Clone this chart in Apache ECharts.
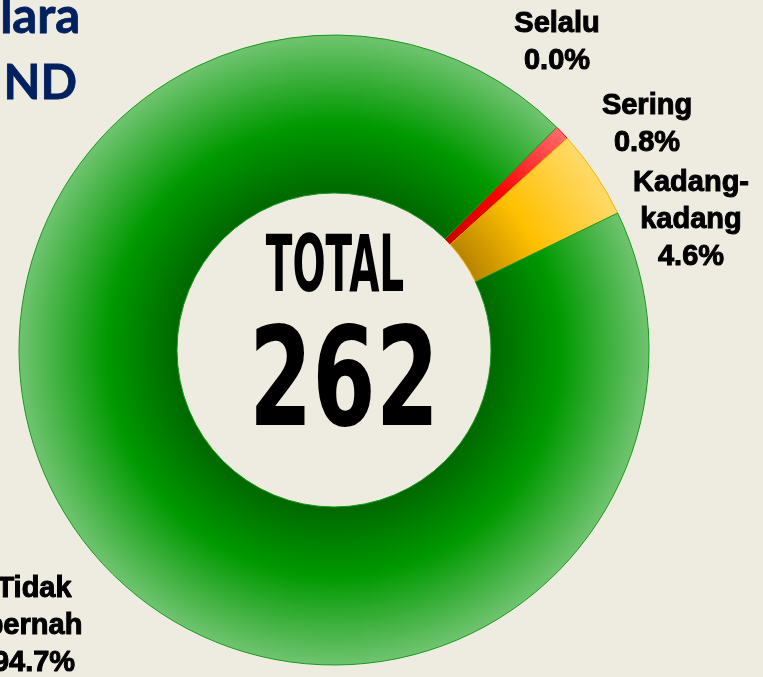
<!DOCTYPE html>
<html>
	<head>
		<meta charset="UTF-8">
		<script type="text/javascript" src="https://cdn.jsdelivr.net/npm/echarts@6/dist/echarts.min.js"></script>
		<title>Total 262</title>
		<style>
			html, body { margin: 0; padding: 0; background: #eeece1; }
			#chart { width: 763px; height: 677px; }
		</style>
	</head>
	<body>
		<div id="chart"></div>
		<script type="text/javascript">
			// data
			var categories = ['Selalu', 'Sering', 'Kadang-kadang', 'Tidak pernah'];
			var counts = [0, 2, 12, 248];
			var titleParts = ['lara', 'ND'];

			var total = counts.reduce(function (a, b) { return a + b; }, 0);

			// pie geometry
			var cx = 334, cy = 350, rIn = 157, rOut = 315;

			function ring(inner, mid, outer) {
				return {
					type: 'radial', x: cx, y: cy, r: rOut, global: true,
					colorStops: [
						{offset: 0, color: inner},
						{offset: rIn / rOut, color: inner},
						{offset: 0.72, color: mid},
						{offset: 1, color: outer}
					]
				};
			}
			var sliceStyle = [
				{color: ring('#c00000', '#ff0000', '#ff6b6b'), borderColor: 'rgba(0,0,0,0)', borderWidth: 0},
				{color: ring('#c80000', '#ff0000', '#ff6b6b'), borderColor: '#ff0000', borderWidth: 1},
				{color: ring('#b88400', '#ffc000', '#ffda6a'), borderColor: '#f5b400', borderWidth: 1},
				{color: ring('#006800', '#009900', '#70c470'), borderColor: '#1c991c', borderWidth: 1}
			];

			// label placement (manual, as in the original)
			var labelAt = [[557, 42], [647, 124], [691, 220], [34, 626]];

			var myChart = echarts.init(document.getElementById('chart'));
			var option = {
				backgroundColor: '#eeece1',
				animation: false,
				graphic: [
					{type: 'text', x: 80, y: 17, style: {text: titleParts[0], fontSize: 49, fontWeight: 'bold', fontFamily: 'Lato', fill: '#002060', stroke: '#002060', lineWidth: 0.8, align: 'right', textAlign: 'right', verticalAlign: 'middle', textVerticalAlign: 'middle'}},
					{type: 'text', x: 77, y: 84, style: {text: titleParts[1], fontSize: 48, fontWeight: 'bold', fontFamily: 'Lato', fill: '#002060', stroke: '#002060', lineWidth: 0.8, align: 'right', textAlign: 'right', verticalAlign: 'middle', textVerticalAlign: 'middle'}},
					{type: 'text', x: 335, y: 271, scaleX: 0.5, z: 100, style: {text: 'TOTAL', fontSize: 78, fontWeight: 'bold', fontFamily: 'DejaVu Sans', fill: '#000', align: 'center', textAlign: 'center', verticalAlign: 'middle', textVerticalAlign: 'middle'}},
					{type: 'text', x: 344, y: 389, scaleX: 0.66, z: 100, style: {text: String(total), fontSize: 138, fontWeight: 'bold', fontFamily: 'DejaVu Sans', fill: '#000', align: 'center', textAlign: 'center', verticalAlign: 'middle', textVerticalAlign: 'middle'}}
				],
				series: [{
					type: 'pie',
					center: [cx, cy],
					radius: [rIn, rOut],
					startAngle: 45,
					clockwise: true,
					avoidLabelOverlap: false,
					labelLine: {show: false},
					emphasis: {disabled: true},
					label: {
						show: true,
						color: '#000',
						fontFamily: 'Liberation Sans',
						fontWeight: 'bold',
						fontSize: 29,
						lineHeight: 37,
						textBorderColor: '#000',
						textBorderWidth: 1,
						align: 'center',
						formatter: function (p) {
							var name = p.name.replace('-', '-\n').replace(' ', '\n');
							return name + '\n' + (p.value / total * 100).toFixed(1) + '%';
						}
					},
					labelLayout: function (p) {
						var pos = labelAt[p.dataIndex];
						return {x: pos[0], y: pos[1], align: 'center', verticalAlign: 'middle'};
					},
					data: categories.map(function (c, i) {
						return {name: c, value: counts[i], itemStyle: sliceStyle[i]};
					})
				}]
			};
			myChart.setOption(option);
		</script>
	</body>
</html>
